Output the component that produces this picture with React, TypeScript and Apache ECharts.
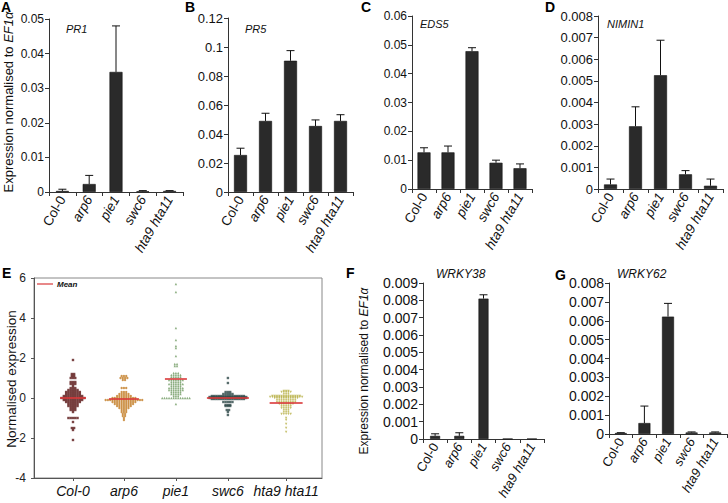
import React, { useEffect, useRef } from "react";
import * as echarts from "echarts";

// ---------- data ----------
const categories = ["Col-0", "arp6", "pie1", "swc6", "hta9 hta11"];

const pr1 = [0.0003, 0.0023, 0.0347, 0.0002, 0.0003];
const pr1Err = [0.0005, 0.0025, 0.0133, 0.0002, 0.0001];
const pr5 = [0.0255, 0.049, 0.0905, 0.0455, 0.049];
const pr5Err = [0.0047, 0.0053, 0.007, 0.0042, 0.0043];
const eds5 = [0.0127, 0.0127, 0.0478, 0.0091, 0.0072];
const eds5Err = [0.0016, 0.0022, 0.0012, 0.0009, 0.0015];
const nimin1 = [0.00021, 0.0029, 0.00526, 0.00068, 0.00015];
const nimin1Err = [0.00025, 0.0009, 0.00162, 0.00017, 0.00031];
const wrky38 = [0.00018, 0.00018, 0.0081, 0.00001, 0.00001];
const wrky38Err = [0.00012, 0.00018, 0.00022, 0, 0];
const wrky62 = [0.00005, 0.00058, 0.00622, 0.00008, 0.00008];
const wrky62Err = [0.00002, 0.0009, 0.0007, 0.00003, 0.00003];

// panel E: rows of the dot plot as [value, number of dots]
const col0Rows: [number, number][] = [
  [1.9, 1], [1.2, 2], [1.1, 2], [1.0, 3], [0.8, 3], [0.7, 3], [0.6, 1], [0.5, 3],
  [0.4, 5], [0.3, 7], [0.2, 7], [0.1, 9], [0.0, 11], [-0.1, 9], [-0.2, 7], [-0.3, 5],
  [-0.4, 5], [-0.5, 3], [-0.6, 3], [-0.7, 1], [-1.0, 5], [-1.2, 1], [-1.5, 2], [-1.6, 1], [-2.1, 1],
];
const arp6Rows: [number, number][] = [
  [1.1, 3], [1.0, 4], [0.9, 2], [0.5, 3], [0.3, 3], [0.2, 5], [0.1, 7], [0.0, 11],
  [-0.1, 17], [-0.2, 11], [-0.3, 9], [-0.4, 7], [-0.5, 5], [-0.6, 3], [-0.7, 3],
  [-0.8, 2], [-0.9, 2], [-1.0, 1], [-1.1, 1],
];
const pie1Rows: [number, number][] = [
  [5.7, 1], [5.3, 1], [3.5, 1], [2.9, 1], [2.6, 1], [2.5, 1], [2.1, 1], [1.7, 2], [1.6, 2],
  [1.25, 3], [1.15, 5], [1.05, 5], [0.9, 7], [0.8, 5], [0.7, 7], [0.6, 5], [0.5, 7],
  [0.4, 7], [0.3, 5], [0.2, 5], [0.1, 3], [0.0, 13], [-0.3, 1],
];
const swc6Rows: [number, number][] = [
  [1.0, 1], [0.75, 1], [0.3, 3], [0.2, 5], [0.1, 15], [0.05, 17], [0.0, 17], [-0.05, 15],
  [-0.2, 5], [-0.35, 3], [-0.4, 3], [-0.6, 2], [-0.7, 1], [-0.85, 1],
];
const hta9Rows: [number, number][] = [
  [0.35, 3], [0.3, 5], [0.2, 3], [0.1, 13], [0.05, 15], [0.0, 11], [-0.1, 9], [-0.2, 9],
  [-0.3, 7], [-0.4, 5], [-0.5, 5], [-0.6, 3], [-0.7, 3], [-0.8, 5], [-1.0, 1], [-1.1, 1],
  [-1.3, 1], [-1.5, 1], [-1.7, 1],
];
const groupMeans = [0, -0.05, 0.95, 0, -0.25];

// ---------- layout / style ----------
const FONT = "'Liberation Sans', Arial, sans-serif";
const AXIS = "#333";
const BAR = "#2a2a2a";
const xPos = [0.75, 1.73, 2.73, 3.73, 4.85];
const DX = 0.044;
const E_TOP = 250; // top of the panel-E chart div

function beeswarm(rows: [number, number][], center: number) {
  const pts: number[][] = [];
  for (const [v, n] of rows) {
    for (let k = 0; k < n; k++) pts.push([center + (k - (n - 1) / 2) * DX, v]);
  }
  return pts;
}

type Panel = {
  grid: { left: number; top: number; width: number; height: number };
  values: number[];
  errs: number[];
  max: number;
  interval: number;
  yFont: number;
  xFont: number;
  barWidth: number;
};

const panels: Panel[] = [
  { grid: { left: 49, top: 19, width: 134, height: 173 }, values: pr1, errs: pr1Err, max: 0.05, interval: 0.01, yFont: 12, xFont: 13.5, barWidth: 13 },
  { grid: { left: 228, top: 18, width: 125, height: 174 }, values: pr5, errs: pr5Err, max: 0.12, interval: 0.02, yFont: 13, xFont: 13.5, barWidth: 13 },
  { grid: { left: 412, top: 16, width: 120, height: 173 }, values: eds5, errs: eds5Err, max: 0.06, interval: 0.01, yFont: 12, xFont: 13.5, barWidth: 13 },
  { grid: { left: 598, top: 16, width: 125, height: 173 }, values: nimin1, errs: nimin1Err, max: 0.008, interval: 0.001, yFont: 13, xFont: 13.5, barWidth: 13 },
  { grid: { left: 423, top: 283, width: 121, height: 156 }, values: wrky38, errs: wrky38Err, max: 0.009, interval: 0.001, yFont: 14, xFont: 13, barWidth: 10 },
  { grid: { left: 609, top: 283, width: 118, height: 151 }, values: wrky62, errs: wrky62Err, max: 0.008, interval: 0.001, yFont: 14, xFont: 13, barWidth: 12 },
];

function errRender(hw: number) {
  return (params: any, api: any) => {
    const i = api.value(0);
    const v = api.value(1);
    const e = api.value(2);
    if (!(e > 0)) return null;
    const p0 = api.coord([i, v]);
    const p1 = api.coord([i, v + e]);
    const style = { stroke: "#111", lineWidth: 1 };
    return {
      type: "group",
      children: [
        { type: "line", shape: { x1: p0[0], y1: p0[1], x2: p1[0], y2: p1[1] }, style },
        { type: "line", shape: { x1: p1[0] - hw, y1: p1[1], x2: p1[0] + hw, y2: p1[1] }, style },
      ],
    };
  };
}

export default function App() {
  const ref = useRef<HTMLDivElement>(null);
  const refE = useRef<HTMLDivElement>(null);

  useEffect(() => {
    if (!ref.current || !refE.current) return;
    const chart = echarts.init(ref.current, undefined, { renderer: "svg" });
    const chartE = echarts.init(refE.current, undefined, { renderer: "svg" });

    // ----- bar panels -----
    const grids: any[] = [];
    const xAxes: any[] = [];
    const yAxes: any[] = [];
    const series: any[] = [];

    panels.forEach((p, idx) => {
      grids.push({ ...p.grid });
      xAxes.push({
        type: "category",
        gridIndex: idx,
        data: categories,
        axisLine: { show: true, onZero: false, lineStyle: { color: AXIS, width: 1 } },
        axisTick: { show: true, length: 4, lineStyle: { color: AXIS } },
        axisLabel: {
          rotate: 60,
          margin: 5,
          fontSize: p.xFont,
          color: "#111",
          fontFamily: FONT,
          interval: 0,
          formatter: (v: string) => (v === "Col-0" ? v : `{i|${v}}`),
          rich: { i: { fontStyle: "italic", fontSize: p.xFont, color: "#111", fontFamily: FONT } },
        },
        splitLine: { show: false },
      });
      yAxes.push({
        type: "value",
        gridIndex: idx,
        min: 0,
        max: p.max,
        interval: p.interval,
        axisLine: { show: true, lineStyle: { color: AXIS, width: 1 } },
        axisTick: { show: true, length: 4, lineStyle: { color: AXIS } },
        axisLabel: { fontSize: p.yFont, color: "#111", fontFamily: FONT, margin: 5 },
        splitLine: { show: false },
      });
      series.push({
        type: "bar",
        xAxisIndex: idx,
        yAxisIndex: idx,
        data: p.values,
        barWidth: p.barWidth,
        itemStyle: { color: BAR, borderColor: "#111", borderWidth: 0.6 },
        z: 2,
      });
      series.push({
        type: "custom",
        xAxisIndex: idx,
        yAxisIndex: idx,
        data: p.values.map((v, i) => [i, v, p.errs[i]]),
        encode: { x: 0, y: 1 },
        renderItem: errRender(4),
        z: 3,
      });
    });

    const letter = (t: string, x: number, y: number) => ({
      type: "text",
      x,
      y,
      style: { text: t, font: `bold 14px ${FONT}`, fill: "#000", verticalAlign: "top", align: "left" },
    });
    const gene = (t: string, x: number, y: number, size: number) => ({
      type: "text",
      x,
      y,
      style: { text: t, font: `italic ${size}px ${FONT}`, fill: "#111", verticalAlign: "middle", align: "left" },
    });
    const ytitle = (x: number, y: number, size: number) => ({
      type: "text",
      x,
      y,
      rotation: Math.PI / 2,
      style: {
        text: "Expression normalised to {i|EF1α}",
        font: `${size}px ${FONT}`,
        fill: "#111",
        align: "center",
        verticalAlign: "middle",
        rich: { i: { fontStyle: "italic", fontSize: size, fontFamily: FONT, fill: "#111" } },
      },
    });

    chart.setOption({
      animation: false,
      backgroundColor: "#fff",
      textStyle: { fontFamily: FONT },
      grid: grids,
      xAxis: xAxes,
      yAxis: yAxes,
      series,
      graphic: [
        letter("A", 1, 0),
        letter("B", 185, 0),
        letter("C", 361, 0),
        letter("D", 545, 0),
        letter("E", 2, 266),
        letter("F", 346, 266),
        letter("G", 555, 268),
        gene("PR1", 66, 29, 11),
        gene("PR5", 245, 29, 11),
        gene("EDS5", 420, 24, 11),
        gene("NIMIN1", 607, 24, 11),
        gene("WRKY38", 436, 274, 12),
        gene("WRKY62", 617, 274, 12),
        ytitle(8, 102, 13),
        ytitle(364, 371, 12),
        {
          type: "text",
          x: 11,
          y: 379,
          rotation: Math.PI / 2,
          style: { text: "Normalised expression", font: `13.5px ${FONT}`, fill: "#111", align: "center", verticalAlign: "middle" },
        },
      ],
    });

    // ----- panel E (own chart, div top = E_TOP) -----
    const dotGroups = [
      { rows: col0Rows, symbol: "rect", color: "#5a1616" },
      { rows: arp6Rows, symbol: "circle", color: "#c27a22" },
      { rows: pie1Rows, symbol: "triangle", color: "#6f9a62" },
      { rows: swc6Rows, symbol: "rect", color: "#2e4848" },
      { rows: hta9Rows, symbol: "path://M0,0 L10,0 L5,9 Z", color: "#b9b24a" },
    ];
    const eSeries: any[] = dotGroups.map((g, gi) => ({
      type: "scatter",
      data: beeswarm(g.rows, xPos[gi]),
      symbol: g.symbol,
      symbolSize: 2.4,
      itemStyle: { color: g.color },
      z: 2,
      silent: true,
    }));
    const meanWidths = [26, 30, 22, 42, 33];
    eSeries.push({
      type: "scatter",
      data: groupMeans.map((m, i) => ({ value: [xPos[i], m], symbolSize: [meanWidths[i], 2] })),
      symbol: "rect",
      itemStyle: { color: "#d9383a" },
      z: 4,
      silent: true,
    });

    chartE.setOption({
      animation: false,
      textStyle: { fontFamily: FONT },
      grid: [{ left: 34, top: 278 - E_TOP, width: 288, height: 200, show: true, borderColor: "#888" }],
      xAxis: [{
        type: "value",
        min: 0,
        max: 5.54,
        axisLine: { show: true, onZero: false, lineStyle: { color: "#555" } },
        axisTick: { show: true, length: 3, customValues: xPos },
        axisLabel: {
          customValues: xPos,
          margin: 6,
          fontSize: 14,
          fontStyle: "italic",
          color: "#111",
          fontFamily: FONT,
          formatter: (v: number) => {
            const i = xPos.findIndex((q) => Math.abs(q - v) < 1e-6);
            return i >= 0 ? categories[i] : "";
          },
        },
        splitLine: { show: false },
      }],
      yAxis: [{
        type: "value",
        min: -4,
        max: 6,
        interval: 2,
        axisLine: { show: true, lineStyle: { color: "#555" } },
        axisTick: { show: true, length: 3 },
        axisLabel: { fontSize: 12, color: "#222", showMaxLabel: true, showMinLabel: true },
        splitLine: { show: false },
      }],
      series: eSeries,
      graphic: [
        { type: "line", shape: { x1: 37, y1: 284 - E_TOP, x2: 53, y2: 284 - E_TOP }, style: { stroke: "#d9383a", lineWidth: 1.2 } },
        {
          type: "text",
          x: 57,
          y: 284 - E_TOP,
          style: { text: "Mean", font: `italic bold 8px ${FONT}`, fill: "#111", verticalAlign: "middle", align: "left" },
        },
      ],
    });

    return () => {
      chart.dispose();
      chartE.dispose();
    };
  }, []);

  return (
    <div style={{ position: "absolute", left: 0, top: 0, width: 728, height: 503 }}>
      <div ref={ref} style={{ position: "absolute", left: 0, top: 0, width: 728, height: 503 }} />
      <div ref={refE} style={{ position: "absolute", left: 0, top: E_TOP, width: 340, height: 503 - E_TOP }} />
    </div>
  );
}
